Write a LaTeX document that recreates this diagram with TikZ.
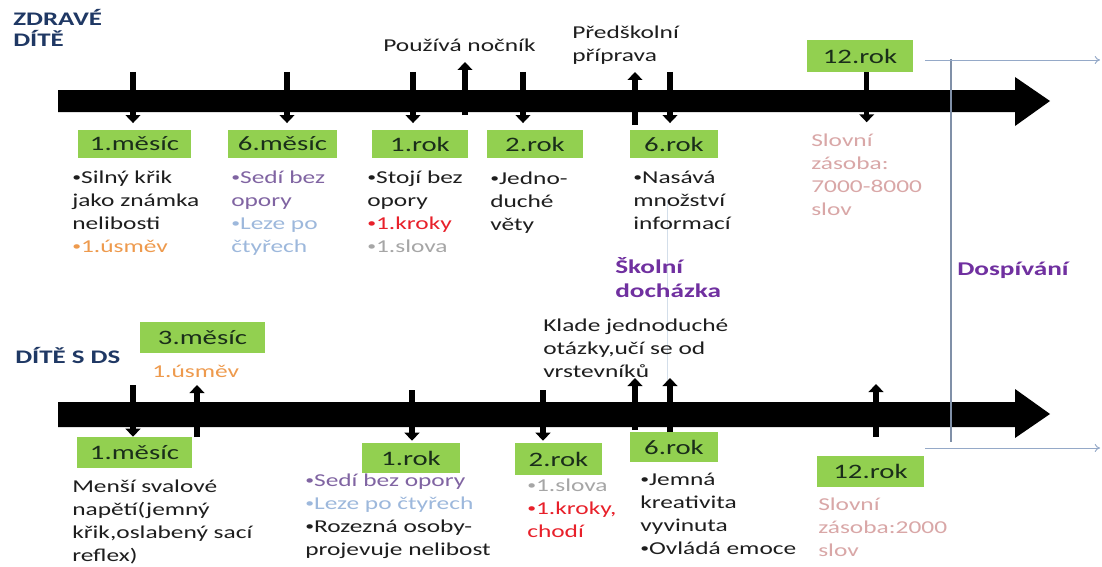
\documentclass[tikz,border=0pt]{standalone}
\usepackage{fontspec}
\setmainfont{Carlito}[FakeStretch=1.4]
\usetikzlibrary{arrows.meta}
\definecolor{boxgreen}{HTML}{92D050}
\definecolor{boxtext}{HTML}{1A2E1A}
\definecolor{bodytext}{HTML}{1E1E1E}
\definecolor{navy}{HTML}{1F3864}
\definecolor{smile}{HTML}{EE9A4D}
\definecolor{lila}{HTML}{8064A2}
\definecolor{pale}{HTML}{9DB8DC}
\definecolor{word}{HTML}{A6A6A6}
\definecolor{step}{HTML}{E8202A}
\definecolor{vocab}{HTML}{D9A7A7}
\definecolor{phase}{HTML}{7030A0}
\definecolor{rule}{HTML}{8090A8}
\definecolor{ray}{HTML}{95A9C8}
\definecolor{faint}{HTML}{D3DEEA}
\newcommand\bodyfont{\fontsize{13.6pt}{17.2pt}\selectfont}
\newcommand\boxfont{\fontsize{15.4pt}{18pt}\selectfont}
\newcommand\headfont{\fontsize{14.4pt}{16.5pt}\selectfont\bfseries}
\newcommand\bul{\raisebox{1.3pt}{\fontsize{9.5pt}{10pt}\selectfont•}}
\begin{document}
\begin{tikzpicture}[x=0.75pt,y=-0.75pt,
	box/.style={fill=boxgreen,inner sep=0pt,text=boxtext,font=\boxfont},
	txt/.style={anchor=base west,align=left,inner sep=0pt,font=\bodyfont,text=bodytext},
	head/.style={anchor=base west,align=left,inner sep=0pt,font=\headfont},
	tick/.style={line width=4pt,-{Triangle[width=11pt,length=6pt]}}]
	\fill[white] (0,0) rectangle (1102,567);
	\useasboundingbox (0,0) rectangle (1102,567);
	% the two time axes
	\fill (58,90) -- (1015,90) -- (1015,77) -- (1050,101) -- (1015,126) -- (1015,112) -- (58,112) -- cycle;
	\fill (58,402) -- (1015,402) -- (1015,389) -- (1050,414) -- (1015,438) -- (1015,427) -- (58,427) -- cycle;
	\draw[faint,line width=0.75pt] (667,200) -- (667,380);
	\draw[rule,line width=0.8pt] (951,59) -- (951,442);
	\draw[ray,line width=0.7pt,-{To[length=4pt,width=6pt]}] (925,60) -- (1100,60);
	\draw[ray,line width=0.7pt,-{To[length=4pt,width=6pt]}] (925,448) -- (1100,448);
	% headings (base = last line)
	\node[head,text=navy] (zdrave) at (13,47) {ZDRAVÉ\\DÍTĚ};
	\node[head,text=navy] (ds) at (15,363) {DÍTĚ S DS};
	\node[head,text=phase,font=\fontsize{14.6pt}{18pt}\selectfont\bfseries] (skola) at (615,297) {Školní\\docházka};
	\node[head,text=phase,font=\fontsize{14.6pt}{18pt}\selectfont\bfseries] (dosp) at (957,275) {Dospívání};
	% healthy child
	\node[box,minimum width=84.75pt,minimum height=21pt] (tm1) at (134.5,144) {1.měsíc};
	\node[box,minimum width=81.75pt,minimum height=21pt] (tm6) at (282.5,144) {6.měsíc};
	\node[box,minimum width=72pt,minimum height=21pt] (tr1) at (420,144) {1.rok};
	\node[box,minimum width=72pt,minimum height=21pt] (tr2) at (535,144) {2.rok};
	\node[box,minimum width=66pt,minimum height=21pt] (tr6) at (674,144) {6.rok};
	\node[box,minimum width=79.5pt,minimum height=24pt] (tr12) at (860,56) {12.rok};
	\node[txt] (tt1) at (72,252) {\bul Silný křik\\jako známka\\nelibosti\\\textcolor{smile}{\bul 1.úsměv}};
	\node[txt] (tt2) at (231,252) {\textcolor{lila}{\bul Sedí bez}\\\textcolor{lila}{opory}\\\textcolor{pale}{\bul Leze po}\\\textcolor{pale}{čtyřech}};
	\node[txt] (tt3) at (367,252) {\bul Stojí bez\\opory\\\textcolor{step}{\bul 1.kroky}\\\textcolor{word}{\bul 1.slova}};
	\node[txt] (tt4) at (490,230) {\bul Jedno-\\duché\\věty};
	\node[txt] (tt5) at (633,229) {\bul Nasává\\množství\\informací};
	\node[txt,text=vocab] (tt6) at (811,215) {Slovní\\zásoba:\\7000-8000\\slov};
	\node[txt] (nocnik) at (383,51) {Používá nočník};
	\node[txt] (pripr) at (572,61) {Předškolní\\příprava};
	\coordinate (k1) at (133,72);
	\coordinate (k2) at (287,72);
	\coordinate (k3) at (413,72);
	\coordinate (k4) at (523,72);
	\coordinate (k5) at (670,72);
	\coordinate (u1) at (465,115);
	\coordinate (u2) at (635,125);
	\draw[tick,shorten >=5pt] (k1) -- (k1 |- tm1.north);
	\draw[tick,shorten >=5pt] (k2) -- (k2 |- tm6.north);
	\draw[tick,shorten >=5pt] (k3) -- (k3 |- tr1.north);
	\draw[tick,shorten >=5pt] (k4) -- (k4 |- tr2.north);
	\draw[tick,shorten >=5pt] (k5) -- (k5 |- tr6.north);
	\draw[tick] ([xshift=5pt]tr12.south) -- ++(0,50);
	\draw[tick] (u1) -- ++(0,-53);
	\draw[tick] (u2) -- ++(0,-53);
	% child with DS
	\node[box,minimum width=93.75pt,minimum height=23.25pt] (bm3) at (202.5,337.5) {3.měsíc};
	\node[box,minimum width=86.25pt,minimum height=23.25pt] (bm1) at (134.5,452.5) {1.měsíc};
	\node[box,minimum width=73.5pt,minimum height=22.5pt] (br1) at (411,458) {1.rok};
	\node[box,minimum width=65.25pt,minimum height=24pt] (br2) at (558.5,459) {2.rok};
	\node[box,minimum width=66pt,minimum height=22.5pt] (br6) at (674,447) {6.rok};
	\node[box,minimum width=80.25pt,minimum height=23.25pt] (br12) at (870.5,471.5) {12.rok};
	\node[txt,text=smile] (usmev) at (152,377) {1.úsměv};
	\node[txt] (klade) at (543,377) {Klade jednoduché\\otázky,učí se od\\vrstevníků};
	\node[txt] (bt1) at (72,561) {Menší svalové\\napětí(jemný\\křik,oslabený sací\\reflex)};
	\node[txt] (bt2) at (305,555) {\textcolor{lila}{\bul Sedí bez opory}\\\textcolor{pale}{\bul Leze po čtyřech}\\\bul Rozezná osoby-\\projevuje nelibost};
	\node[txt] (bt3) at (527,537) {\textcolor{word}{\bul 1.slova}\\\textcolor{step}{\bul 1.kroky,}\\\textcolor{step}{chodí}};
	\node[txt] (bt4) at (640,554) {\bul Jemná\\kreativita\\vyvinuta\\\bul Ovládá emoce};
	\node[txt,text=vocab] (bt5) at (818,556) {Slovní\\zásoba:2000\\slov};
	\coordinate (d1) at (133,385);
	\coordinate (d2) at (412,390);
	\coordinate (d3) at (543,390);
	\coordinate (v1) at (197,437);
	\coordinate (v2) at (635,430);
	\coordinate (v3) at (670,432);
	\coordinate (v4) at (876,437);
	\draw[tick] (d1) -- (d1 |- bm1.north);
	\draw[tick,shorten >=1.5pt] (d2) -- (d2 |- br1.north);
	\draw[tick,shorten >=1.5pt] (d3) -- (d3 |- br2.north);
	\draw[tick] (v1) -- ++(0,-52);
	\draw[tick] (v2) -- ++(0,-52);
	\draw[tick] (v3) -- ++(0,-54);
	\draw[tick] (v4) -- ++(0,-53);
\end{tikzpicture}
\end{document}
